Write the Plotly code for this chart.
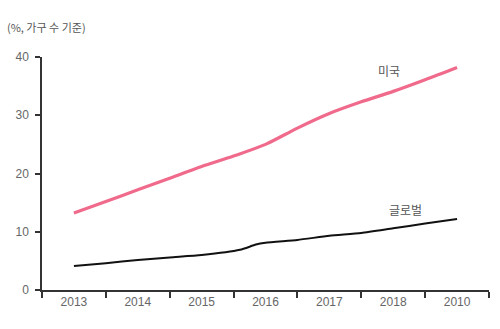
import plotly.graph_objects as go

years = ["2013", "2014", "2015", "2016", "2017", "2018", "2010"]

# positions in year-index units (0 = first category centre)
us_x = [0, 0.5, 1, 1.5, 2, 2.5, 3, 3.5, 4, 4.5, 5, 5.5, 6]
us_y = [13.2, 15.2, 17.2, 19.2, 21.2, 23.0, 25.0, 27.8, 30.3, 32.3, 34.1, 36.1, 38.2]

gl_x = [0, 0.5, 1, 1.5, 2, 2.6, 2.85, 3, 3.5, 4, 4.5, 5, 5.5, 6]
gl_y = [4.1, 4.6, 5.15, 5.6, 6.0, 6.9, 7.8, 8.1, 8.6, 9.3, 9.8, 10.6, 11.4, 12.2]

fig = go.Figure()
fig.add_trace(go.Scatter(x=us_x, y=us_y, mode="lines",
                         line=dict(color="#F06A8C", width=3.2, shape="spline", smoothing=0.8),
                         hoverinfo="skip", showlegend=False))
fig.add_trace(go.Scatter(x=gl_x, y=gl_y, mode="lines",
                         line=dict(color="#111111", width=2, shape="spline", smoothing=0.6),
                         hoverinfo="skip", showlegend=False))

font_num = dict(family="Liberation Sans, Arial, sans-serif", size=12, color="#666666")
font_kr = dict(family="Noto Sans CJK KR, sans-serif", size=12, color="#555555")

fig.update_layout(
    width=500, height=329,
    margin=dict(l=42, r=11, t=57, b=39),
    paper_bgcolor="white", plot_bgcolor="white",
    xaxis=dict(
        range=[-0.5, 6.5],
        tickmode="array", tickvals=list(range(len(years))), ticktext=years,
        ticks="", showgrid=False, zeroline=False,
        showline=True, linecolor="#333333", linewidth=1.5,
        tickfont=font_num,
        minor=dict(tick0=-0.5, dtick=1, ticks="outside", ticklen=6,
                   tickcolor="#333333", tickwidth=1.5, showgrid=False),
    ),
    yaxis=dict(
        range=[0, 40], tickmode="array", tickvals=[0, 10, 20, 30, 40],
        ticks="outside", ticklen=5, tickcolor="#333333", tickwidth=1.5,
        showgrid=False, zeroline=False,
        showline=True, linecolor="#333333", linewidth=1.5,
        tickfont=font_num, ticklabelstandoff=4,
    ),
    annotations=[
        dict(x=4.94, y=37.6, xref="x", yref="y", text="미국", showarrow=False, font=font_kr),
        dict(x=5.20, y=13.9, xref="x", yref="y", text="글로벌", showarrow=False, font=font_kr),
        dict(x=-37 / 447, y=(290 - 27) / 233, xref="paper", yref="paper",
             xanchor="left", yanchor="middle",
             text="(%, 가구 수 기준)", showarrow=False,
             font=dict(family="Noto Sans CJK KR, sans-serif", size=11, color="#555555")),
    ],
)

fig.write_html("out.html")
